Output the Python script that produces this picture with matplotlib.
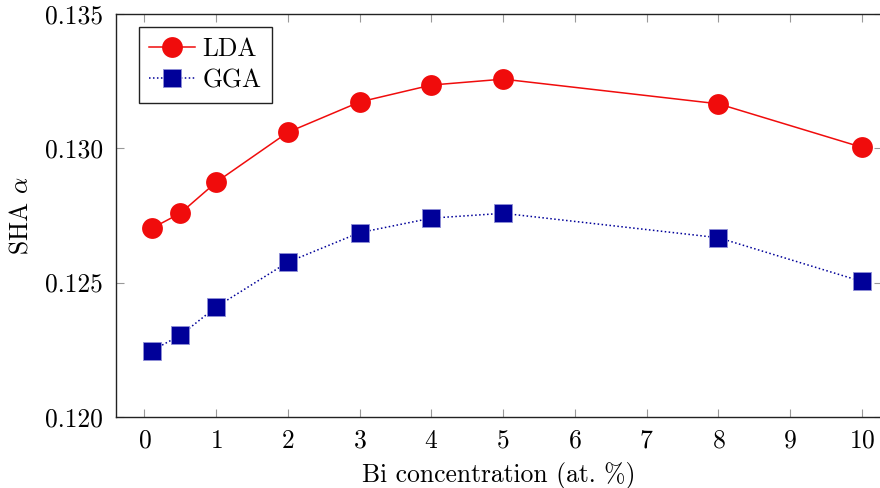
import matplotlib
matplotlib.use("Agg")
import matplotlib.pyplot as plt
from matplotlib.ticker import FixedLocator, FormatStrFormatter

plt.rcParams.update({
    "font.family": "serif",
    "font.serif": ["cmr10", "DejaVu Serif"],
    "mathtext.fontset": "cm",
    "axes.formatter.use_mathtext": True,
    "font.size": 18.4,
})

# Spin Hall angle vs. Bi concentration
bi_conc = [0.1, 0.5, 1, 2, 3, 4, 5, 8, 10]
sha_lda = [0.12702, 0.12758, 0.12874, 0.13060, 0.13173, 0.13236, 0.13258, 0.13166, 0.13004]
sha_gga = [0.12246, 0.12303, 0.12409, 0.12576, 0.12686, 0.12740, 0.12758, 0.12667, 0.12504]
x_ticks = list(range(0, 11))
y_ticks = [0.120, 0.125, 0.130, 0.135]

fig = plt.figure(figsize=(8.8, 4.88), dpi=100)
ax = fig.add_axes([0.1315, 0.1461, 1.0023 - 0.1315, 0.9709 - 0.1461])

red = "#f00c0c"
blue = "#000099"

ax.plot(bi_conc, sha_lda, color=red, lw=1.1, marker="o", ms=15,
        markeredgewidth=0, label="LDA", clip_on=False, zorder=3)
ax.plot(bi_conc, sha_gga, color=blue, lw=1.1, ls=(0, (1, 1.6)), marker="s",
        ms=13.3, markeredgecolor="#8f8fd6", markeredgewidth=0.6,
        label="GGA", clip_on=False, zorder=3)

ax.set_xlim(-0.4, 10.28)
ax.set_ylim(0.120, 0.135)
ax.xaxis.set_major_locator(FixedLocator(x_ticks))
ax.yaxis.set_major_locator(FixedLocator(y_ticks))
ax.yaxis.set_major_formatter(FormatStrFormatter("%.3f"))

ax.tick_params(direction="in", length=6, width=0.8, color="#999999",
               top=True, right=True, pad=9)
for sp in ax.spines.values():
    sp.set_linewidth(1.0)
    sp.set_color("#222222")

ax.set_xlabel("Bi concentration (at. %)", labelpad=6.5)
ax.set_ylabel(r"SHA $\alpha$", labelpad=9)

leg = ax.legend(loc="upper left", bbox_to_anchor=(0.03, 0.968), frameon=True,
                fancybox=False, edgecolor="#222222", framealpha=1,
                handlelength=1.8, handletextpad=0.3, borderpad=0.4,
                labelspacing=0.3, borderaxespad=0.0)
leg.get_frame().set_linewidth(1.0)

fig.savefig("out.png", dpi=100)
